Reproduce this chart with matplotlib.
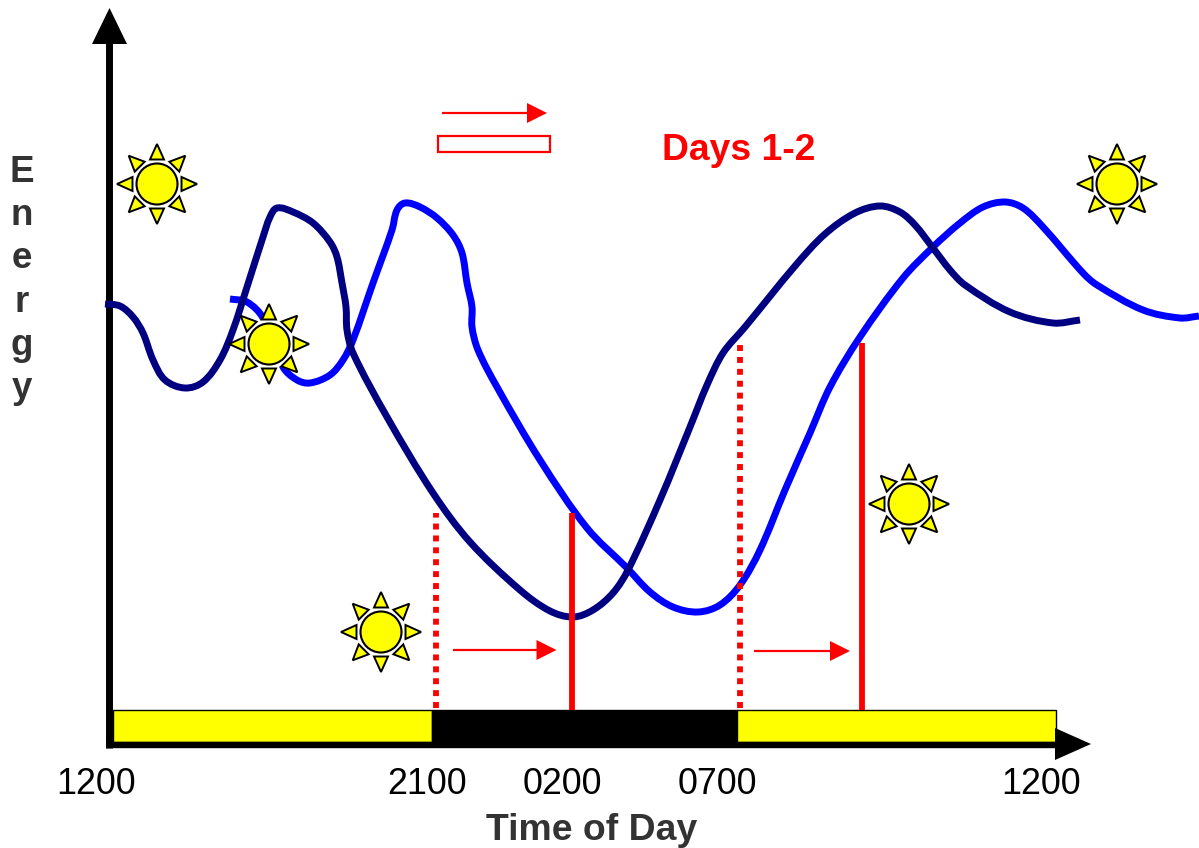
import numpy as np
import matplotlib
matplotlib.use("Agg")
import matplotlib.pyplot as plt
from matplotlib.path import Path
from matplotlib.patches import PathPatch, Polygon, Circle, Rectangle

plt.rcParams['font.family'] = ['Liberation Sans', 'DejaVu Sans']

day1_x = [105,120,133,143,153,165,185,203,220,233,247,263,270,277,293,313,330,337,342,346,347,353,387,433,470,520,550,573,593,613,628,660,690,707,723,745,795,825,855,880,900,915,933,950,965,1010,1053,1080]
day1_y = [304,306,317,333,360,380,388,382,360,330,287,237,217,208,212,223,242,257,283,307,330,353,417,493,542,590,611,617,610,593,570,500,427,385,353,327,266,234,213,206,212,225,248,270,285,312,323,320]
day2_x = [230,247,263,283,297,310,330,343,353,373,392,397,405,420,437,453,462,467,472,472,478,497,540,587,627,650,673,698,720,740,760,785,810,830,860,903,933,960,983,1005,1023,1043,1083,1097,1143,1180,1199]
day2_y = [299,302,318,367,380,383,375,360,340,283,230,210,203,207,218,235,253,283,307,327,350,387,460,528,568,592,607,612,605,585,550,490,433,387,337,278,247,223,207,202,208,227,273,285,310,318,316]
sun_x = [157, 269, 381, 909, 1117]
sun_y = [184, 344, 632, 504, 184]
tick_labels = ['1200', '2100', '0200', '0700', '1200']
tick_x = [96, 427, 562.5, 717.5, 1041]
bar_edges = [113, 432, 737, 1056]
bar_colors = ['#ffff00', '#000000', '#ffff00']
dotted_x = [436, 740]
dotted_top = [513, 340]
solid_x = [572, 862]
solid_top = [513, 343]
shift_start = [453, 754]
shift_end = [556.5, 850]
shift_y = [650, 651]
energy_letters = list('Energy')
energy_base = [182, 225, 268, 312, 355, 398]

fig = plt.figure(figsize=(11.99, 8.48), dpi=100)
ax = fig.add_axes([0, 0, 1, 1])
ax.set_xlim(0, 1199)
ax.set_ylim(848, 0)
ax.axis('off')


def smooth(xs, ys, color, z):
    p = np.column_stack([xs, ys]).astype(float)
    tang = np.zeros_like(p)
    for i in range(len(p)):
        a = p[max(i - 1, 0)]
        b = p[min(i + 1, len(p) - 1)]
        tang[i] = (b - a) / np.linalg.norm(b - a)
    verts = [p[0]]
    codes = [Path.MOVETO]
    for i in range(len(p) - 1):
        h = np.linalg.norm(p[i + 1] - p[i]) / 3
        verts += [p[i] + tang[i] * h, p[i + 1] - tang[i + 1] * h, p[i + 1]]
        codes += [Path.CURVE4] * 3
    ax.add_patch(PathPatch(Path(verts, codes), fill=False, edgecolor=color,
                           lw=5.0, capstyle='butt', joinstyle='round', zorder=z))


def sun(cx, cy, z=6):
    ax.add_patch(Circle((cx, cy), 25, fc='white', ec='none', zorder=z))
    ax.add_patch(Circle((cx, cy), 20.5, fc='#ffff00', ec='black', lw=1.5, zorder=z + 1))
    for k in range(8):
        t = k * np.pi / 4
        u = np.array([np.cos(t), np.sin(t)])
        n = np.array([-u[1], u[0]])
        c = np.array([cx, cy])
        ax.add_patch(Polygon([c + 40 * u, c + 24.5 * u + 7 * n, c + 24.5 * u - 7 * n],
                             closed=True, fc='#ffff00', ec='black', lw=1.4,
                             joinstyle='miter', zorder=z + 1))


def red_arrow(x0, x1, y, hw=10, hl=20):
    ax.plot([x0, x1 - hl], [y, y], color='#ff0000', lw=1.6, solid_capstyle='butt', zorder=5)
    ax.add_patch(Polygon([(x1, y), (x1 - hl, y - hw), (x1 - hl, y + hw)],
                         closed=True, fc='#ff0000', ec='none', zorder=5))


# time bar
for i, col in enumerate(bar_colors):
    ax.add_patch(Rectangle((bar_edges[i], 710), bar_edges[i + 1] - bar_edges[i], 32,
                           fc=col, ec='black', lw=1.0, zorder=2))

# axes with arrow heads
ax.plot([109.2, 109.2], [40, 748], color='black', lw=5, solid_capstyle='butt', zorder=3)
ax.plot([106, 1060], [745, 745], color='black', lw=4.6, solid_capstyle='butt', zorder=3)
ax.add_patch(Polygon([(109.5, 8), (92, 44), (127, 44)], closed=True, fc='black', ec='none', zorder=3))
ax.add_patch(Polygon([(1091, 744), (1055, 728), (1055, 760)], closed=True, fc='black', ec='none', zorder=3))

# energy curves
smooth(day2_x, day2_y, '#0000ff', 4)
smooth(day1_x, day1_y, '#000080', 5)

# onset markers
for x, top in zip(dotted_x, dotted_top):
    ax.plot([x, x], [708, top], color='#ff0000', lw=4.2, linestyle=(0, (1.02, 1.02)),
            dash_capstyle='butt', zorder=5.5)
for x, top in zip(solid_x, solid_top):
    ax.plot([x, x], [top, 710], color='#ff0000', lw=4.2, solid_capstyle='butt', zorder=5.5)
for a, b, y in zip(shift_start, shift_end, shift_y):
    red_arrow(a, b, y)

# legend-like glyphs
red_arrow(442, 547, 113)
ax.add_patch(Rectangle((438, 136), 112, 16, fc='white', ec='#ff0000', lw=1.6, zorder=5))
ax.text(739, 150, 'Days 1-2', color='#ff0000', fontsize=26.8, fontweight='bold',
        ha='center', va='center')

for x, y in zip(sun_x, sun_y):
    sun(x, y)

# text
for x, lab in zip(tick_x, tick_labels):
    ax.text(x, 785, lab, fontsize=25.8, color='black', ha='center', va='center')
ax.text(592, 831, 'Time of Day', fontsize=26.9, fontweight='bold', color='#333333',
        ha='center', va='center')
for y, ch in zip(energy_base, energy_letters):
    ax.text(21.5, y, ch, fontsize=26.5, fontweight='bold', color='#333333',
            ha='center', va='baseline')

fig.savefig('out.png', dpi=100)
